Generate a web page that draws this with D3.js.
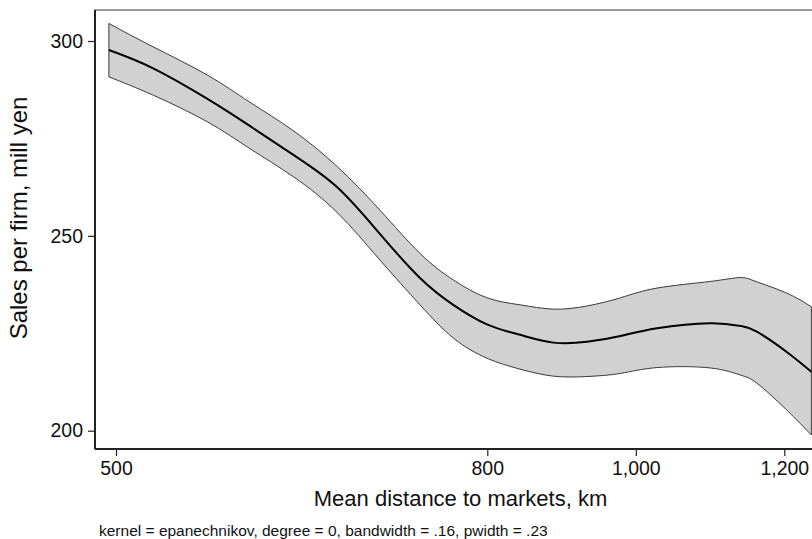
<!DOCTYPE html>
<html>
<head>
<meta charset="utf-8">
<script src="https://cdn.jsdelivr.net/npm/d3@7"></script>
<style>
  body { margin: 0; background: #fff; }
  svg { display: block; font-family: "Liberation Sans", Arial, Helvetica, sans-serif; }
</style>
</head>
<body>
<div id="graph"></div>
<script>
// Data ////////////////////////////////////////////////
const distance = [488, 518, 557, 590, 626, 664, 703, 742, 776, 812, 849, 888, 929, 972, 1021, 1097, 1142, 1168, 1216, 1257];
const salesMean = [297.7, 293.0, 285.2, 278.2, 270.7, 262.4, 250.5, 239.2, 232.3, 227.3, 224.6, 222.6, 222.8, 224.3, 226.3, 227.6, 226.9, 225.4, 220.2, 215.1];
const salesUpper = [304.5, 298.5, 291.3, 284.3, 276.9, 267.7, 256.6, 245.5, 238.7, 234.1, 232.3, 231.2, 232.0, 234.1, 236.6, 238.3, 239.3, 238.2, 235.3, 231.8];
const salesLower = [290.8, 286.1, 279.3, 272.4, 265.1, 255.9, 243.8, 232.3, 223.8, 218.6, 215.8, 214.0, 213.9, 214.7, 216.2, 216.1, 214.3, 212.2, 205.3, 198.9];

// x axis is log scale, ticks sit at exp(6.2), exp(6.7), exp(6.9), exp(7.1)
const xTickValues = [492.7, 812.4, 992.3, 1212.0];
const xTickLabels = ["500", "800", "1,000", "1,200"];
const yTickValues = [200, 250, 300];

const xTitle = "Mean distance to markets, km";
const yTitle = "Sales per firm, mill yen";
const note = "kernel = epanechnikov, degree = 0, bandwidth = .16, pwidth = .23";

// Constants //////////////////////////////////////////////////////////////////
const svgWidth = 812;
const svgHeight = 539;
const plot = { left: 95, top: 10, right: 826, bottom: 449 };

const svg = d3
  .select("#graph")
  .append("svg")
  .attr("width", svgWidth)
  .attr("height", svgHeight)
  .style("overflow", "hidden");

const x = d3.scaleLog().domain([xTickValues[0], xTickValues[3]]).range([116, 784.3]);
const y = d3.scaleLinear().domain([200, 300]).range([430.7, 41]);

const rows = distance.map((d, i) => ({
  x: d,
  mean: salesMean[i],
  hi: salesUpper[i],
  lo: salesLower[i]
}));

// Band ///////////////////////////////////////////////////////////////////////
const area = d3
  .area()
  .x(d => x(d.x))
  .y0(d => y(d.lo))
  .y1(d => y(d.hi))
  .curve(d3.curveNatural);

svg
  .append("path")
  .datum(rows)
  .attr("d", area)
  .style("fill", "#d1d1d1")
  .style("stroke", "#3a3a3a")
  .style("stroke-width", 1)
  .style("stroke-linejoin", "round");

const line = d3
  .line()
  .x(d => x(d.x))
  .y(d => y(d.mean))
  .curve(d3.curveNatural);

svg
  .append("path")
  .datum(rows)
  .attr("d", line)
  .style("fill", "none")
  .style("stroke", "#000")
  .style("stroke-width", 2);

// Frame //////////////////////////////////////////////////////////////////////
svg
  .append("rect")
  .attr("x", plot.left)
  .attr("y", plot.top)
  .attr("width", plot.right - plot.left)
  .attr("height", plot.bottom - plot.top)
  .style("fill", "none")
  .style("stroke", "#555")
  .style("stroke-width", 1.2);

// Axes ///////////////////////////////////////////////////////////////////////
const xAxis = svg
  .append("g")
  .attr("transform", `translate(0, ${plot.bottom})`)
  .call(
    d3.axisBottom(x)
      .tickValues(xTickValues)
      .tickFormat((d, i) => xTickLabels[i])
      .tickSize(7)
      .tickPadding(5.5)
  );

xAxis.select(".domain").attr("d", `M${plot.left},0H${plot.right}`);

const yAxis = svg
  .append("g")
  .attr("transform", `translate(${plot.left}, 0)`)
  .call(
    d3.axisLeft(y)
      .tickValues(yTickValues)
      .tickSize(7)
      .tickPadding(5)
  );

yAxis.select(".domain").attr("d", `M0,${plot.top}V${plot.bottom}`);

[xAxis, yAxis].forEach(g => {
  g.select(".domain").style("stroke", "#222").style("stroke-width", 2);
  g.selectAll(".tick line").style("stroke", "#222").style("stroke-width", 1.2);
  g.selectAll(".tick text")
    .style("font-family", "Liberation Sans, Arial, sans-serif")
    .style("font-size", "19.5px")
    .style("fill", "#111");
});

// Titles /////////////////////////////////////////////////////////////////////
svg
  .append("text")
  .attr("x", (plot.left + plot.right) / 2)
  .attr("y", 506)
  .attr("text-anchor", "middle")
  .style("font-size", "22px")
  .style("fill", "#111")
  .text(xTitle);

svg
  .append("text")
  .attr("transform", "translate(27, 218) rotate(-90)")
  .attr("text-anchor", "middle")
  .style("font-size", "24px")
  .style("fill", "#111")
  .text(yTitle);

svg
  .append("text")
  .attr("x", 99)
  .attr("y", 536)
  .style("font-size", "15.5px")
  .style("fill", "#111")
  .text(note);
</script>
</body>
</html>
